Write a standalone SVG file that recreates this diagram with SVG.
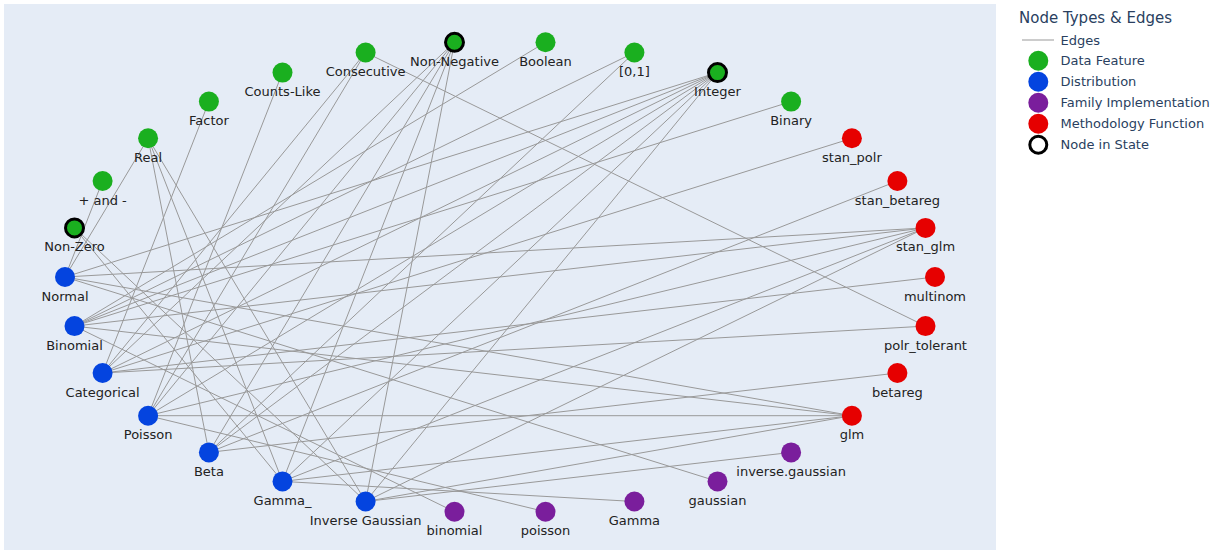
<svg xmlns="http://www.w3.org/2000/svg" width="1217" height="554" viewBox="0 0 1217 554">
<style>
.bg{fill:#e5ecf6}
.e line{stroke:#999;stroke-width:1}
.df{fill:#1aaf1f}
.di{fill:#0444df}
.fi{fill:#7a1e9c}
.mf{fill:#e60000}
.st{stroke:#000;stroke-width:3}
.lb{font-family:"DejaVu Sans",Verdana,sans-serif;font-size:13px;fill:#222;text-anchor:middle}
.lg{font-family:"DejaVu Sans",Verdana,sans-serif;font-size:13px;fill:#2a3f5f}
.lt{font-family:"DejaVu Sans",Verdana,sans-serif;font-size:15px;fill:#2a3f5f}
</style>
<rect width="1217" height="554" fill="#fff"/>
<rect class="bg" x="4" y="4" width="992" height="546"/>
<g id="edges" class="e">
<line x1="102.6" y1="181" x2="65" y2="277"/>
<line x1="148.1" y1="138.3" x2="65" y2="277"/>
<line x1="148.1" y1="138.3" x2="208.9" y2="452.4"/>
<line x1="148.1" y1="138.3" x2="282.5" y2="481.4"/>
<line x1="148.1" y1="138.3" x2="365.6" y2="501.5"/>
<line x1="74.5" y1="227.9" x2="282.5" y2="481.4"/>
<line x1="74.5" y1="227.9" x2="365.6" y2="501.5"/>
<line x1="208.9" y1="101.6" x2="102.6" y2="373"/>
<line x1="282.5" y1="72.6" x2="148.1" y2="415.7"/>
<line x1="365.6" y1="52.5" x2="102.6" y2="373"/>
<line x1="365.6" y1="52.5" x2="148.1" y2="415.7"/>
<line x1="365.6" y1="52.5" x2="925.5" y2="326.1"/>
<line x1="454.5" y1="42.3" x2="102.6" y2="373"/>
<line x1="454.5" y1="42.3" x2="148.1" y2="415.7"/>
<line x1="454.5" y1="42.3" x2="208.9" y2="452.4"/>
<line x1="454.5" y1="42.3" x2="282.5" y2="481.4"/>
<line x1="454.5" y1="42.3" x2="365.6" y2="501.5"/>
<line x1="545.5" y1="42.3" x2="74.5" y2="326.1"/>
<line x1="634.4" y1="52.5" x2="74.5" y2="326.1"/>
<line x1="634.4" y1="52.5" x2="208.9" y2="452.4"/>
<line x1="717.5" y1="72.6" x2="65" y2="277"/>
<line x1="717.5" y1="72.6" x2="74.5" y2="326.1"/>
<line x1="717.5" y1="72.6" x2="102.6" y2="373"/>
<line x1="717.5" y1="72.6" x2="148.1" y2="415.7"/>
<line x1="717.5" y1="72.6" x2="208.9" y2="452.4"/>
<line x1="717.5" y1="72.6" x2="282.5" y2="481.4"/>
<line x1="717.5" y1="72.6" x2="365.6" y2="501.5"/>
<line x1="791.1" y1="101.6" x2="74.5" y2="326.1"/>
<line x1="65" y1="277" x2="717.5" y2="481.4"/>
<line x1="74.5" y1="326.1" x2="454.5" y2="511.7"/>
<line x1="148.1" y1="415.7" x2="545.5" y2="511.7"/>
<line x1="282.5" y1="481.4" x2="634.4" y2="501.5"/>
<line x1="365.6" y1="501.5" x2="791.1" y2="452.4"/>
<line x1="65" y1="277" x2="851.9" y2="415.7"/>
<line x1="74.5" y1="326.1" x2="851.9" y2="415.7"/>
<line x1="148.1" y1="415.7" x2="851.9" y2="415.7"/>
<line x1="282.5" y1="481.4" x2="851.9" y2="415.7"/>
<line x1="365.6" y1="501.5" x2="851.9" y2="415.7"/>
<line x1="65" y1="277" x2="925.5" y2="227.9"/>
<line x1="74.5" y1="326.1" x2="925.5" y2="227.9"/>
<line x1="148.1" y1="415.7" x2="925.5" y2="227.9"/>
<line x1="282.5" y1="481.4" x2="925.5" y2="227.9"/>
<line x1="365.6" y1="501.5" x2="925.5" y2="227.9"/>
<line x1="102.6" y1="373" x2="851.9" y2="138.3"/>
<line x1="102.6" y1="373" x2="935" y2="277"/>
<line x1="102.6" y1="373" x2="925.5" y2="326.1"/>
<line x1="208.9" y1="452.4" x2="897.4" y2="373"/>
<line x1="208.9" y1="452.4" x2="897.4" y2="181"/>
</g>
<g id="n-normal"><circle class="di" cx="65" cy="277" r="10"/><text class="lb" x="65" y="300.5">Normal</text></g>
<g id="n-nonzero"><circle class="df st" cx="74.5" cy="227.9" r="9"/><text class="lb" x="74.5" y="251.4">Non-Zero</text></g>
<g id="n-andminus"><circle class="df" cx="102.6" cy="181" r="10"/><text class="lb" x="102.6" y="204.5">+ and -</text></g>
<g id="n-real"><circle class="df" cx="148.1" cy="138.3" r="10"/><text class="lb" x="148.1" y="161.8">Real</text></g>
<g id="n-factor"><circle class="df" cx="208.9" cy="101.6" r="10"/><text class="lb" x="208.9" y="125.1">Factor</text></g>
<g id="n-countslike"><circle class="df" cx="282.5" cy="72.6" r="10"/><text class="lb" x="282.5" y="96.1">Counts-Like</text></g>
<g id="n-consecutive"><circle class="df" cx="365.6" cy="52.5" r="10"/><text class="lb" x="365.6" y="76">Consecutive</text></g>
<g id="n-nonnegative"><circle class="df st" cx="454.5" cy="42.3" r="9"/><text class="lb" x="454.5" y="65.8">Non-Negative</text></g>
<g id="n-boolean"><circle class="df" cx="545.5" cy="42.3" r="10"/><text class="lb" x="545.5" y="65.8">Boolean</text></g>
<g id="n-01"><circle class="df" cx="634.4" cy="52.5" r="10"/><text class="lb" x="634.4" y="76">[0,1]</text></g>
<g id="n-integer"><circle class="df st" cx="717.5" cy="72.6" r="9"/><text class="lb" x="717.5" y="96.1">Integer</text></g>
<g id="n-binary"><circle class="df" cx="791.1" cy="101.6" r="10"/><text class="lb" x="791.1" y="125.1">Binary</text></g>
<g id="n-stanpolr"><circle class="mf" cx="851.9" cy="138.3" r="10"/><text class="lb" x="851.9" y="161.8">stan_polr</text></g>
<g id="n-stanbetareg"><circle class="mf" cx="897.4" cy="181" r="10"/><text class="lb" x="897.4" y="204.5">stan_betareg</text></g>
<g id="n-stanglm"><circle class="mf" cx="925.5" cy="227.9" r="10"/><text class="lb" x="925.5" y="251.4">stan_glm</text></g>
<g id="n-multinom"><circle class="mf" cx="935" cy="277" r="10"/><text class="lb" x="935" y="300.5">multinom</text></g>
<g id="n-polrtolerant"><circle class="mf" cx="925.5" cy="326.1" r="10"/><text class="lb" x="925.5" y="349.6">polr_tolerant</text></g>
<g id="n-betareg"><circle class="mf" cx="897.4" cy="373" r="10"/><text class="lb" x="897.4" y="396.5">betareg</text></g>
<g id="n-glm"><circle class="mf" cx="851.9" cy="415.7" r="10"/><text class="lb" x="851.9" y="439.2">glm</text></g>
<g id="n-inversegaussian-f"><circle class="fi" cx="791.1" cy="452.4" r="10"/><text class="lb" x="791.1" y="475.9">inverse.gaussian</text></g>
<g id="n-gaussian"><circle class="fi" cx="717.5" cy="481.4" r="10"/><text class="lb" x="717.5" y="504.9">gaussian</text></g>
<g id="n-gamma-f"><circle class="fi" cx="634.4" cy="501.5" r="10"/><text class="lb" x="634.4" y="525">Gamma</text></g>
<g id="n-poisson-f"><circle class="fi" cx="545.5" cy="511.7" r="10"/><text class="lb" x="545.5" y="535.2">poisson</text></g>
<g id="n-binomial-f"><circle class="fi" cx="454.5" cy="511.7" r="10"/><text class="lb" x="454.5" y="535.2">binomial</text></g>
<g id="n-inversegaussian"><circle class="di" cx="365.6" cy="501.5" r="10"/><text class="lb" x="365.6" y="525">Inverse Gaussian</text></g>
<g id="n-gamma"><circle class="di" cx="282.5" cy="481.4" r="10"/><text class="lb" x="282.5" y="504.9">Gamma_</text></g>
<g id="n-beta"><circle class="di" cx="208.9" cy="452.4" r="10"/><text class="lb" x="208.9" y="475.9">Beta</text></g>
<g id="n-poisson"><circle class="di" cx="148.1" cy="415.7" r="10"/><text class="lb" x="148.1" y="439.2">Poisson</text></g>
<g id="n-categorical"><circle class="di" cx="102.6" cy="373" r="10"/><text class="lb" x="102.6" y="396.5">Categorical</text></g>
<g id="n-binomial"><circle class="di" cx="74.5" cy="326.1" r="10"/><text class="lb" x="74.5" y="349.6">Binomial</text></g>
<g id="legend">
<text class="lt" x="1019" y="23">Node Types &amp; Edges</text>
<line x1="1022" y1="40" x2="1054" y2="40" stroke="#999" stroke-width="1"/>
<text class="lg" x="1060.5" y="44.5">Edges</text>
<circle class="df" cx="1038.3" cy="60.7" r="10"/>
<text class="lg" x="1060.5" y="65.2">Data Feature</text>
<circle class="di" cx="1038.3" cy="81.7" r="10"/>
<text class="lg" x="1060.5" y="86.2">Distribution</text>
<circle class="fi" cx="1038.3" cy="102.7" r="10"/>
<text class="lg" x="1060.5" y="107.2">Family Implementation</text>
<circle class="mf" cx="1038.3" cy="123.7" r="10"/>
<text class="lg" x="1060.5" y="128.2">Methodology Function</text>
<circle cx="1038.3" cy="144.7" r="8.5" fill="none" stroke="#000" stroke-width="3"/>
<text class="lg" x="1060.5" y="149.2">Node in State</text>
</g>
</svg>
